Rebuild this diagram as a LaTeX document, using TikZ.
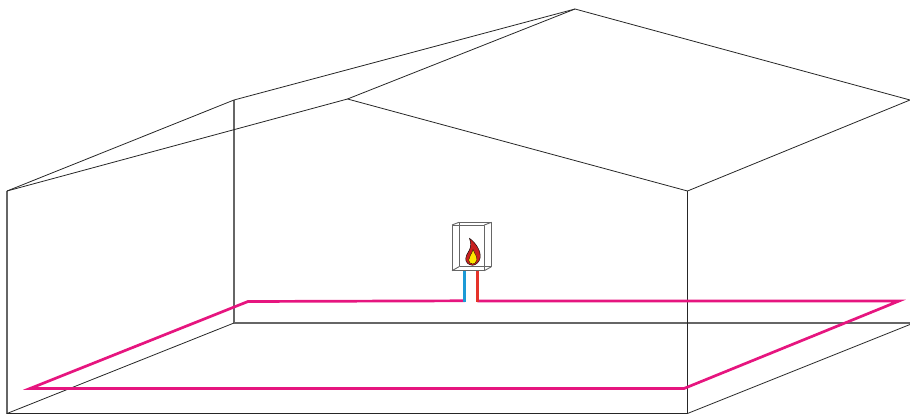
\documentclass[tikz,border=0pt]{standalone}
\definecolor{pipepink}{HTML}{E6157F}
\definecolor{pipered}{HTML}{E5332A}
\definecolor{pipeblue}{HTML}{1C9AD6}
\definecolor{flamered}{HTML}{C8201F}
\definecolor{flameyel}{HTML}{FFE500}
\tikzset{x=1pt,y=-1pt,
 thin line/.style={draw=black!85,line width=0.8pt,line join=round},
 grey line/.style={draw=black!60,line width=1.1pt,line join=round},
 pipe/.style={draw=pipepink,line width=2.7pt,line join=miter,miter limit=12}}
\begin{document}
\begin{tikzpicture}
\useasboundingbox (0,0) rectangle (910,414);
\coordinate (fl) at (7,413.5);
\coordinate (fr) at (687.5,413.5);
\coordinate (bl) at (234,323);
\coordinate (br) at (910,323);
\coordinate (frr) at (910,324.5);
\coordinate (tl) at (7,191);
\coordinate (tr) at (687.5,191);
\coordinate (apexb) at (234,100);
\coordinate (ridge) at (347.5,99);
\coordinate (top) at (575,9);
\coordinate (er) at (910,100);
\draw[grey line] (tl) -- (fl);
\draw[grey line] (apexb) -- (bl) -- (br);
\draw[thin line] (fl) -- (fr) -- (tr) -- (er) -- (top) -- (apexb) -- (tl);
\draw[thin line] (tl) -- (ridge) -- (top);
\draw[thin line] (ridge) -- (tr);
\draw[thin line] (fl) -- (bl);
\draw[thin line] (fr) -- (frr);
\coordinate (pa) at (465,300.8);
\coordinate (pb) at (477.3,301);
\draw[pipe] (pa) -- (248,301.5) -- (30,388.5) -- (684,388.5) -- (899,301) -- (pb);
\draw[draw=pipeblue,line width=2.6pt] (464.7,270.5) -- (464.7,302);
\draw[draw=pipered,line width=2.6pt] (477.3,270.5) -- (477.3,302);
\draw[grey line,line width=0.9pt] (452,225) rectangle (484.3,270.7);
\draw[grey line,line width=0.9pt] (459,222.3) rectangle (491.5,266.7);
\draw[grey line,line width=0.9pt] (452,225) -- (459,222.3) (484.3,225) -- (491.5,222.3) (484.3,270.7) -- (491.5,266.7) (452,270.7) -- (459,266.7);
\path[draw=black,line width=0.4pt,fill=flamered]
 (469.5,238.3) .. controls (476,243) and (481,251) .. (480.2,257.5)
 .. controls (479.5,262.5) and (475.5,265.3) .. (472.5,265.3)
 .. controls (468.5,265.3) and (465.3,262) .. (465.7,258.5)
 .. controls (466.2,254) and (469.3,251.5) .. (470.3,247.5)
 .. controls (471,244.5) and (470.7,241) .. (469.5,238.3) -- cycle;
\path[draw=black,line width=0.3pt,fill=flameyel]
 (473,249.5) .. controls (474.5,253.5) and (477.3,256.5) .. (476.8,260)
 .. controls (476.3,262.8) and (474.5,264) .. (472.7,264)
 .. controls (470.2,264) and (468.6,262) .. (468.7,260)
 .. controls (468.9,256) and (472,254) .. (473,249.5) -- cycle;
\end{tikzpicture}
\end{document}
